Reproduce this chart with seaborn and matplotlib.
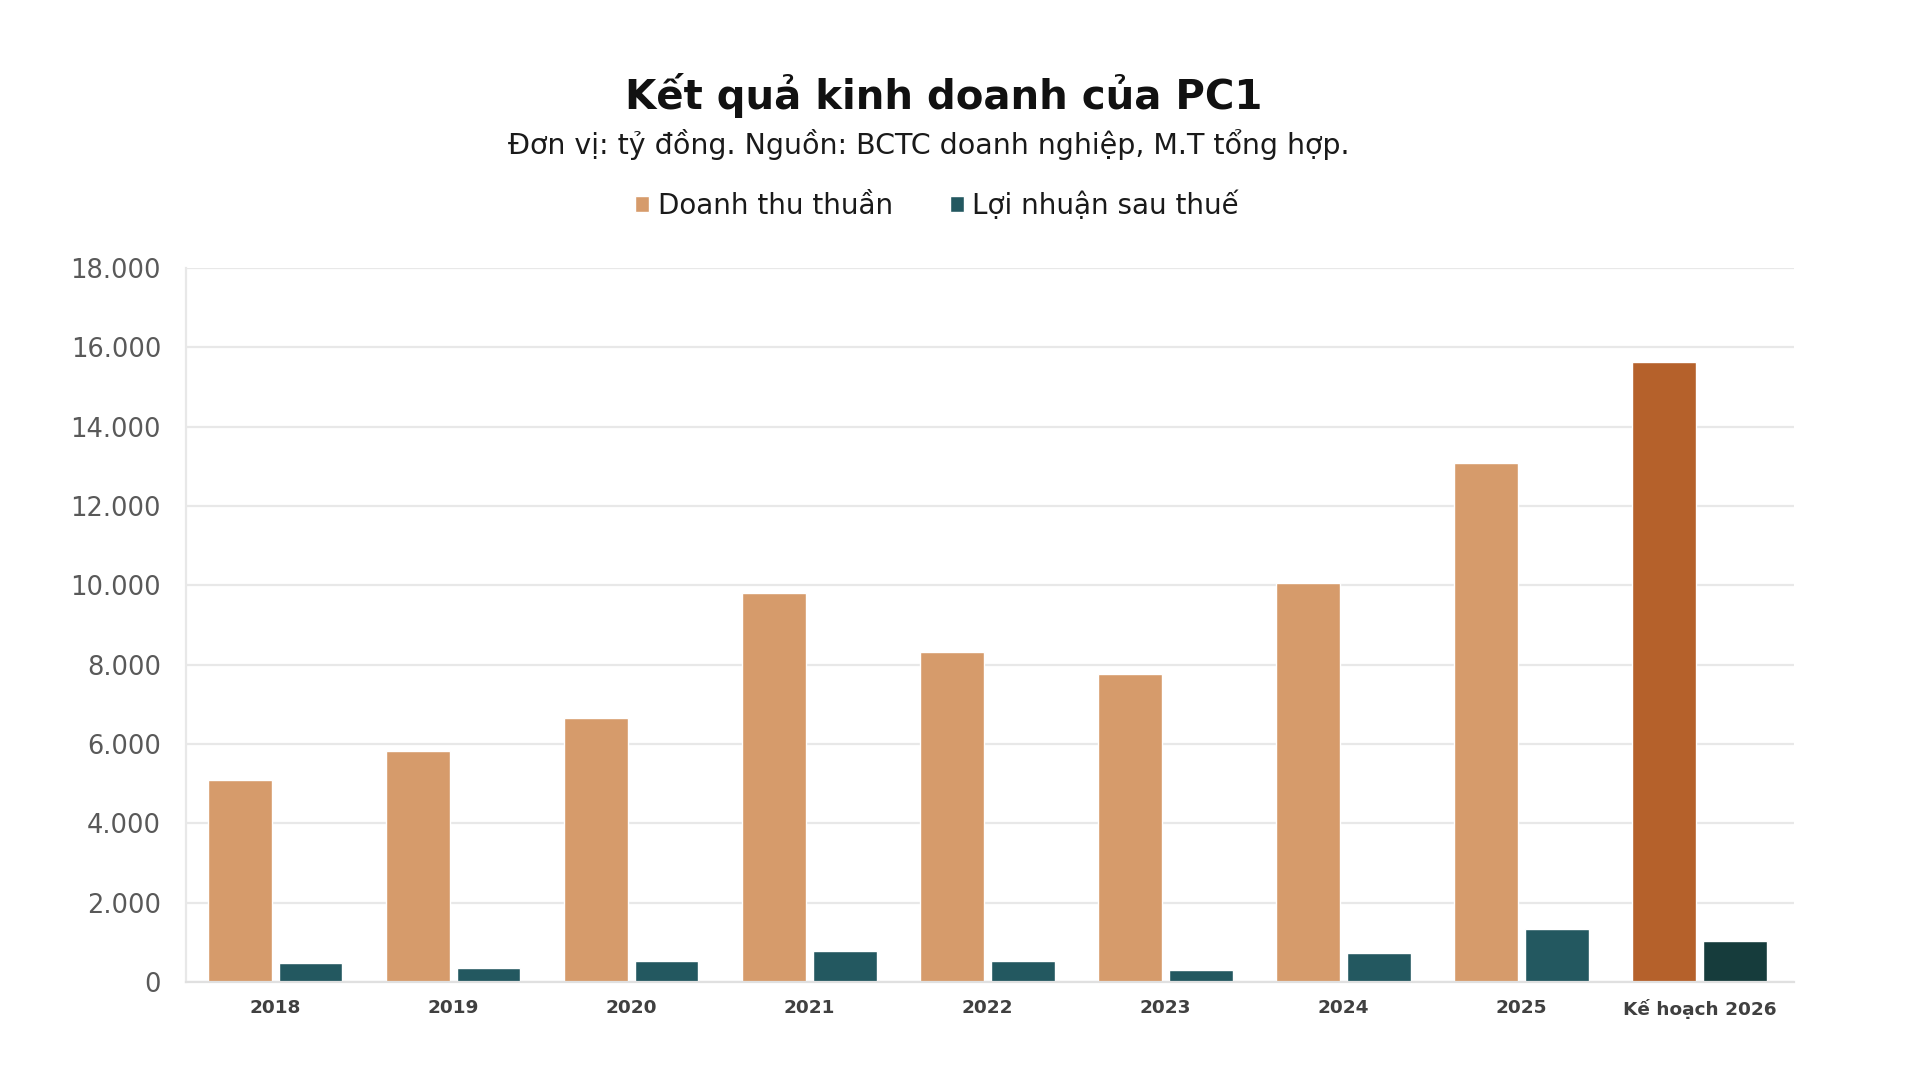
import matplotlib
matplotlib.use("Agg")
import matplotlib.pyplot as plt
from matplotlib.ticker import FuncFormatter
import seaborn as sns
import pandas as pd

# ---- data (tỷ đồng) ----
categories = ["2018", "2019", "2020", "2021", "2022", "2023", "2024", "2025", "Kế hoạch 2026"]
doanh_thu = [5080, 5820, 6660, 9800, 8330, 7770, 10060, 13080, 15620]
loi_nhuan = [470, 350, 530, 780, 530, 290, 720, 1340, 1030]
series_names = ["Doanh thu thuần", "Lợi nhuận sau thuế"]
yticks = [0, 2000, 4000, 6000, 8000, 10000, 12000, 14000, 16000, 18000]

df = pd.DataFrame({
    "Năm": categories * 2,
    "Giá trị": doanh_thu + loi_nhuan,
    "Chỉ tiêu": [series_names[0]] * len(categories) + [series_names[1]] * len(categories),
})

col_rev = "#D69B6B"
col_pro = "#235860"
col_rev_plan = "#B5612B"
col_pro_plan = "#163C3C"

sns.set_theme(style="white")
plt.rcParams["font.family"] = ["DejaVu Sans"]

fig = plt.figure(figsize=(19.2, 10.87), dpi=100)
ax = fig.add_axes([0.0969, 0.0966, 0.8375, 0.6569])

sns.barplot(data=df, x="Năm", y="Giá trị", hue="Chỉ tiêu", order=categories,
            hue_order=series_names, palette={series_names[0]: col_rev, series_names[1]: col_pro},
            width=0.795, gap=0.1, saturation=1, ax=ax, legend=True)

# plan-year bars darker
ax.containers[0][-1].set_facecolor(col_rev_plan)
ax.containers[1][-1].set_facecolor(col_pro_plan)

ax.set_xlim(-0.5, len(categories) - 0.47)
ax.set_ylim(0, 18000)
ax.set_yticks(yticks)
ax.yaxis.set_major_formatter(FuncFormatter(lambda v, p: f"{int(v):,}".replace(",", ".")))
ax.grid(axis="y", color="#E8E8E8", linewidth=1.6)
ax.set_axisbelow(True)
ax.set_xlabel("")
ax.set_ylabel("")
for s in ["top", "right"]:
    ax.spines[s].set_visible(False)
ax.spines["left"].set_color("#E8E8E8")
ax.spines["left"].set_linewidth(1.6)
ax.spines["bottom"].set_color("#E0E0E0")
ax.spines["bottom"].set_linewidth(1.6)

ax.tick_params(axis="y", length=0, pad=18, labelsize=18.5, labelcolor="#595959")
ax.tick_params(axis="x", length=0, pad=12, labelsize=13.3)
for lbl in ax.get_xticklabels():
    lbl.set_fontweight("bold")
    lbl.set_color("#404040")

# legend
sns.move_legend(ax, "center", bbox_to_anchor=(0.488, 0.811), bbox_transform=fig.transFigure,
                ncol=2, frameon=False, title=None, fontsize=20.0,
                handlelength=0.52, handleheight=0.52, handletextpad=0.3, columnspacing=2.05)
for t in ax.get_legend().get_texts():
    t.set_color("#1A1A1A")

fig.text(0.4917, 0.912, "Kết quả kinh doanh của PC1", ha="center", va="center",
         fontsize=29, fontweight="bold", color="#111111")
fig.text(0.484, 0.867, "Đơn vị: tỷ đồng. Nguồn: BCTC doanh nghiệp, M.T tổng hợp.",
         ha="center", va="center", fontsize=20.5, color="#1A1A1A")

fig.savefig("out.png", dpi=100, facecolor="white")
